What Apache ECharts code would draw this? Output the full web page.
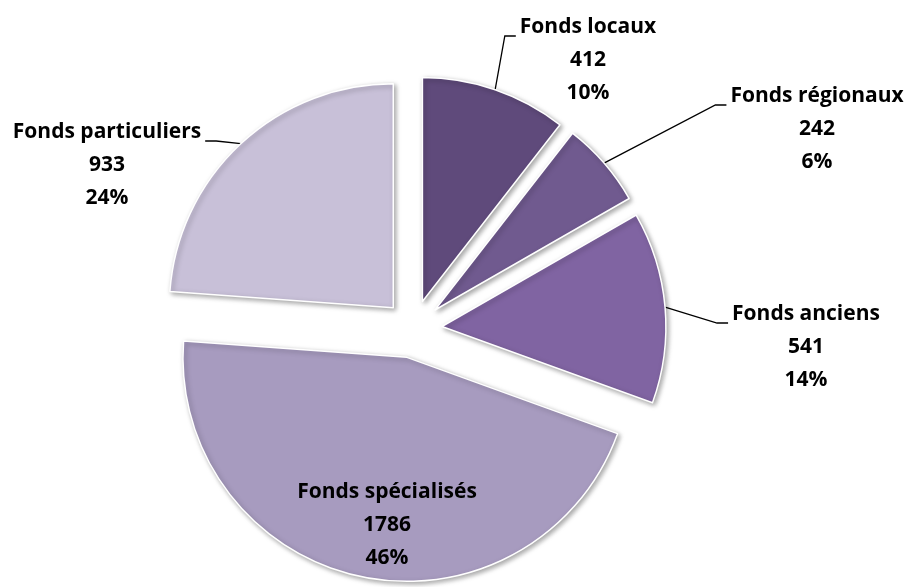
<!DOCTYPE html>
<html><head><meta charset="utf-8">
<script src="https://cdn.jsdelivr.net/npm/echarts@6/dist/echarts.min.js"></script>
<style>html,body{margin:0;padding:0;background:#fff}#c{width:912px;height:587px}</style>
</head><body><div id="c"></div>
<script>
const categories = ['Fonds locaux', 'Fonds régionaux', 'Fonds anciens', 'Fonds spécialisés', 'Fonds particuliers'];
const values = [412, 242, 541, 1786, 933];
const colors = ['#5f4a7b', '#705a8f', '#8064a2', '#a79bbf', '#c8c0d8'];
// label block centres (layout only)
const labelPos = [[588, 60], [817, 129], [806, 347], [387, 525], [107, 165]];
const labelSide = [1, 1, 1, 0, -1]; // 1 = label right of slice, -1 = left, 0 = inside

const CX = 413, CY = 329, R = 224, EXPLODE = 29;
const total = values.reduce((a, b) => a + b, 0);
let acc = 0;
const midAngles = values.map(v => { const m = (acc + v / 2) / total * 2 * Math.PI; acc += v; return m; });

const chart = echarts.init(document.getElementById('c'), null, {renderer: 'canvas'});

const series = categories.map((_, s) => ({
  type: 'pie',
  silent: true,
  center: [CX + EXPLODE * Math.sin(midAngles[s]), CY - EXPLODE * Math.cos(midAngles[s])],
  radius: R,
  startAngle: 90,
  clockwise: true,
  percentPrecision: 0,
  avoidLabelOverlap: false,
  emphasis: { disabled: true },
  label: {
    show: false,
    position: 'outside',
    formatter: '{b}\n{c}\n{d}%',
    fontFamily: '"Open Sans", sans-serif',
    fontWeight: 'bold',
    fontSize: 21,
    lineHeight: 33,
    color: '#000',
    align: 'center'
  },
  labelLine: { show: false, lineStyle: { color: '#000', width: 1.3 } },
  labelLayout: function (p) {
    const pos = labelPos[s];
    const side = labelSide[s];
    const out = { x: pos[0], y: pos[1], align: 'center', verticalAlign: 'middle' };
    if (side !== 0 && p.labelLinePoints) {
      const start = p.labelLinePoints[0];
      const w = p.labelRect.width;
      const ly = pos[1] - 33 + 9;
      const ex = pos[0] - side * (w / 2 + 4);
      const end = [ex, ly];
      const bend = [ex - side * 11, ly];
      out.labelLinePoints = [start, bend, end];
    }
    return out;
  },
  data: categories.map((n, i) => i === s ? {
    name: n, value: values[i],
    itemStyle: {
      color: colors[i], borderColor: '#ffffff', borderWidth: 1.5,
      shadowBlur: 5, shadowOffsetX: 2, shadowOffsetY: 2, shadowColor: 'rgba(0,0,0,0.35)'
    },
    label: { show: true, position: labelSide[i] === 0 ? 'inside' : 'outside' },
    labelLine: { show: labelSide[i] !== 0, length: 20, length2: 10 }
  } : {
    name: n, value: values[i],
    itemStyle: { color: 'rgba(0,0,0,0)', borderWidth: 0, shadowBlur: 0 },
    label: { show: false }, labelLine: { show: false }
  })
}));

chart.setOption({ animation: false, series: series });
</script></body></html>
